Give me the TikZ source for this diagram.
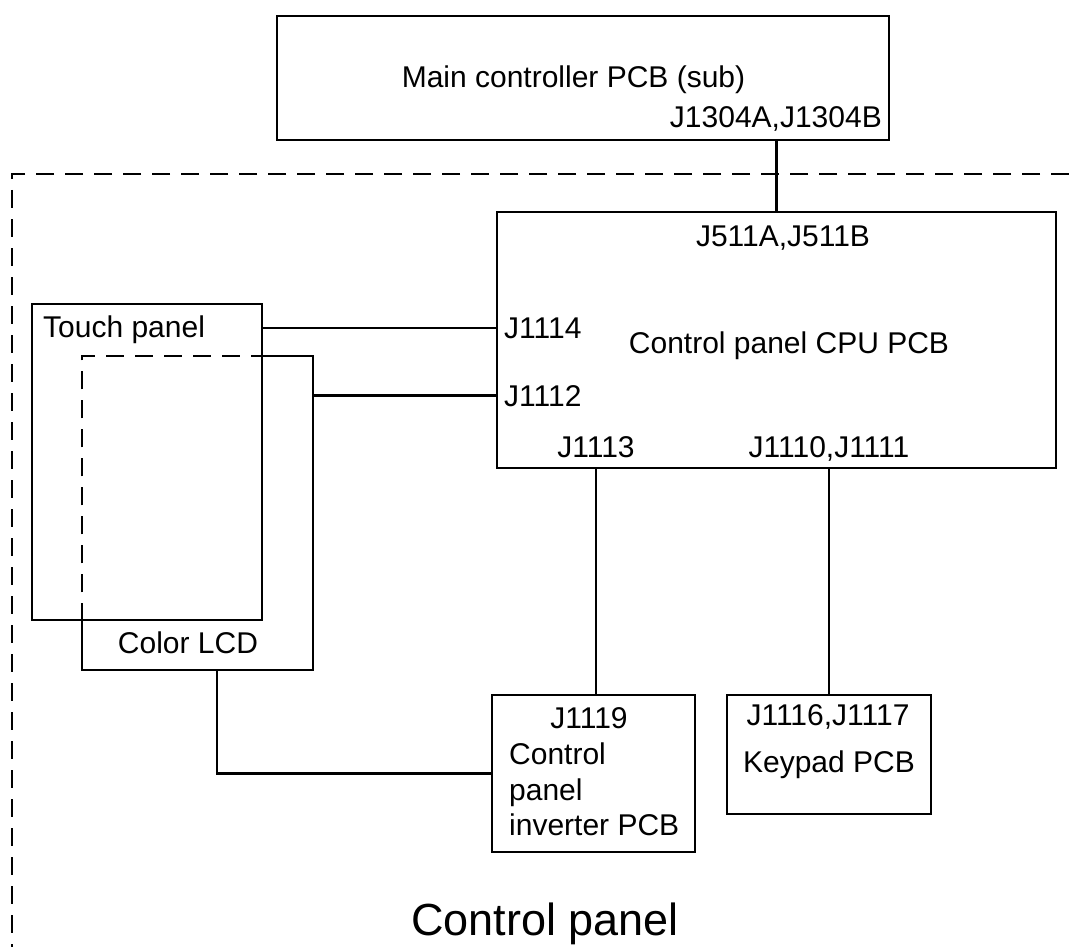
\documentclass[tikz,border=0pt]{standalone}
\usepackage{fontspec}
\setmainfont{Liberation Sans}
\usetikzlibrary{positioning}

\tikzset{
  box/.style={draw, line width=2.5pt, inner sep=0pt},
  shell/.style={inner sep=0pt},
  lbl/.style={inner sep=0pt, anchor=base, font=\fontsize{30}{35.5}\selectfont},
  wire/.style={line width=2.5pt},
  hidden/.style={line width=2.5pt, dash pattern=on 18pt off 11pt},
}

\begin{document}
\begin{tikzpicture}[x=1pt, y=-1pt]
  \useasboundingbox (0,0) rectangle (1069,947);

  % Enclosure of the control panel (open to the right and bottom)
  \draw[hidden] (1069,174) -- (12,174) -- (12,947);

  % Boards
  \node[box, minimum width=612pt, minimum height=124pt] (main) at (583,78) {};
  \node[box, minimum width=559pt, minimum height=256pt] (cpu) at (776.5,340) {};
  \node[box, minimum width=230pt, minimum height=316pt] (touch) at (147,462) {};
  \node[shell, minimum width=231pt, minimum height=314pt] (lcd) at (197.5,513) {};
  \node[box, minimum width=203pt, minimum height=157pt] (inv) at (593.5,773.5) {};
  \node[box, minimum width=204pt, minimum height=119pt] (keypad) at (829,754.5) {};

  % Color LCD: solid outside, dashed behind the touch panel
  \draw[wire] (lcd.north -| touch.east) -- (lcd.north east) -- (lcd.south east)
    -- (lcd.south west) -- (lcd.west |- touch.south);
  \draw[hidden] (lcd.west |- touch.south) -- (lcd.north west) -- (lcd.north -| touch.east);

  % Labels
  \node[lbl] (mainlbl) at (573.5,88) {Main controller PCB (sub)};
  \node[lbl, anchor=base east] (j1304) at (882,128) {J1304A,J1304B};
  \node[lbl] (j511) at (783,246) {J511A,J511B};
  \node[lbl] (cpulbl) at (789,353) {Control panel CPU PCB};
  \node[lbl, anchor=base west] (j1114) at (504,338) {J1114};
  \node[lbl, anchor=base west] (j1112) at (504,406) {J1112};
  \node[lbl] (j1113) at (596,457) {J1113};
  \node[lbl] (j1110) at (829,457) {J1110,J1111};
  \node[lbl, anchor=base west] (touchlbl) at (43,337) {Touch panel};
  \node[lbl] (lcdlbl) at (188,653) {Color LCD};
  \node[lbl] (j1119) at (589,728) {J1119};
  \node[lbl, anchor=base west] (invlbl1) at (509,764) {Control};
  \node[lbl, anchor=base west] (invlbl2) at (509,800) {panel};
  \node[lbl, anchor=base west] (invlbl3) at (509,835) {inverter PCB};
  \node[lbl] (j1116) at (828,725) {J1116,J1117};
  \node[lbl] (keylbl) at (829,772) {Keypad PCB};
  \node[lbl, font=\fontsize{45}{55}\selectfont] (panellbl) at (545,935) {Control panel};

  % Harness
  \draw[wire] (cpu.north) -- (cpu.north |- main.south);
  \draw[wire] (j1114.west -| touch.east) -- (j1114.west -| cpu.west);
  \draw[wire] (j1112.west -| lcd.east) -- (j1112.west -| cpu.west);
  \draw[wire] (j1113.south |- cpu.south) -- (j1113.south |- inv.north);
  \draw[wire] (keypad.north) -- (keypad.north |- cpu.south);
  \draw[wire] ([xshift=19.5pt]lcd.south) |- (inv.west);
\end{tikzpicture}
\end{document}
